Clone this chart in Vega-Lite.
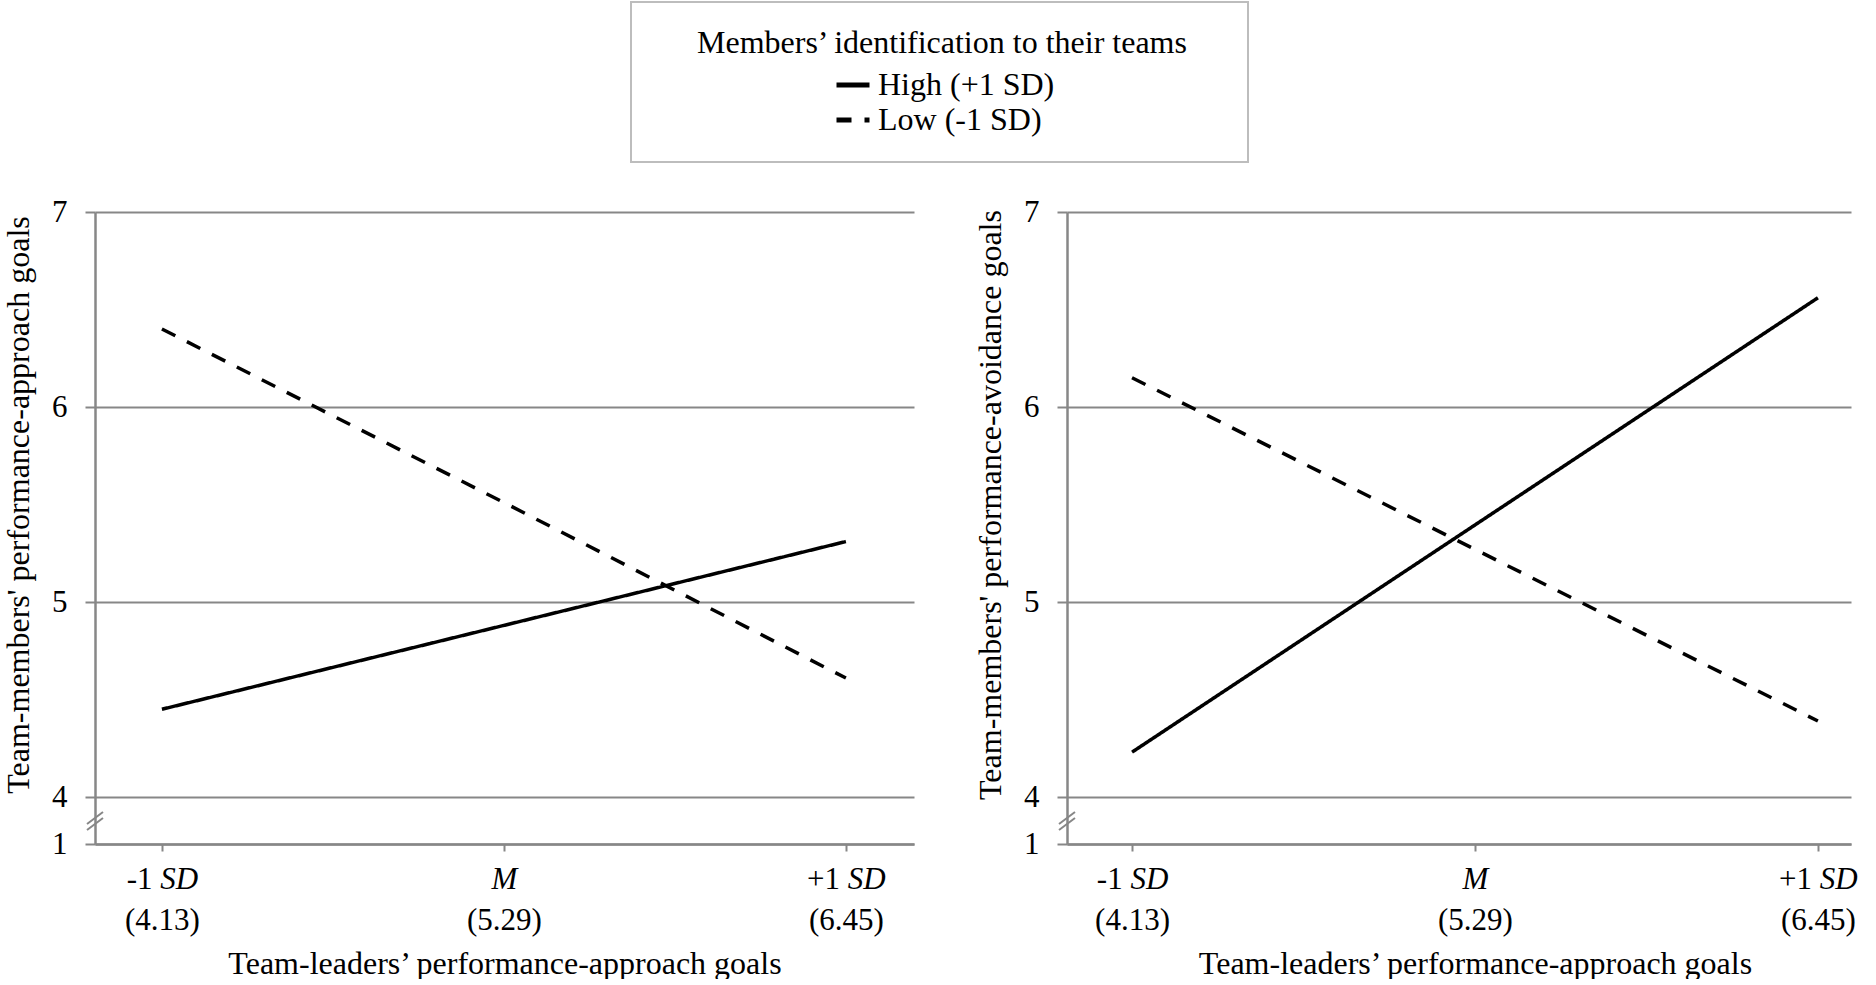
{
  "$schema": "https://vega.github.io/schema/vega-lite/v6.json",
  "padding": {"left": 2, "top": 1, "right": 0, "bottom": 0},
  "autosize": {"type": "pad"},
  "background": "white",
  "datasets": {
    "lines": [
      {"panel": "approach", "level": "High (+1 SD)", "leader": 4.13, "member": 4.45},
      {"panel": "approach", "level": "High (+1 SD)", "leader": 5.29, "member": 4.88},
      {"panel": "approach", "level": "High (+1 SD)", "leader": 6.45, "member": 5.31},
      {"panel": "approach", "level": "Low (-1 SD)", "leader": 4.13, "member": 6.40},
      {"panel": "approach", "level": "Low (-1 SD)", "leader": 5.29, "member": 5.51},
      {"panel": "approach", "level": "Low (-1 SD)", "leader": 6.45, "member": 4.61},
      {"panel": "avoidance", "level": "High (+1 SD)", "leader": 4.13, "member": 4.23},
      {"panel": "avoidance", "level": "High (+1 SD)", "leader": 5.29, "member": 5.395},
      {"panel": "avoidance", "level": "High (+1 SD)", "leader": 6.45, "member": 6.56},
      {"panel": "avoidance", "level": "Low (-1 SD)", "leader": 4.13, "member": 6.15},
      {"panel": "avoidance", "level": "Low (-1 SD)", "leader": 5.29, "member": 5.27},
      {"panel": "avoidance", "level": "Low (-1 SD)", "leader": 6.45, "member": 4.39}
    ],
    "marker": [{"kind": "axis break"}]
  },
  "config": {
    "view": {"stroke": null},
    "font": "Liberation Serif",
    "axis": {
      "labelFont": "Liberation Serif", "labelFontSize": 31, "labelColor": "black",
      "titleFont": "Liberation Serif", "titleFontSize": 32, "titleFontWeight": "normal", "titleColor": "black",
      "domainColor": "#878787", "domainWidth": 2.5,
      "tickColor": "#878787", "tickWidth": 2,
      "gridColor": "#878787", "gridWidth": 2,
      "labelFlush": false, "labelOverlap": false, "labelBound": false, "labelLimit": 1000, "titleLimit": 2000
    },
    "legend": {
      "orient": "none", "legendX": 536, "legendY": -210, "direction": "vertical",
      "padding": 26, "strokeColor": "#bdbdbd", "fillColor": "white",
      "titleFont": "Liberation Serif", "titleFontSize": 32, "titleFontWeight": "normal", "titleColor": "black",
      "titlePadding": 6, "titleLimit": 2000,
      "labelFont": "Liberation Serif", "labelFontSize": 32, "labelColor": "black", "labelLimit": 1000,
      "symbolType": "stroke", "symbolSize": 1089, "symbolStrokeWidth": 5, "symbolStrokeColor": "black",
      "rowPadding": 0, "symbolOffset": 177, "labelOffset": 6
    }
  },
  "spacing": 60,
  "hconcat": [
    {
      "width": 819, "height": 632,
      "layer": [
        {
          "data": {"name": "lines"},
          "transform": [{"filter": "datum.panel == 'approach'"}],
          "mark": {"type": "line", "color": "black", "strokeWidth": 3.5, "strokeCap": "butt"},
          "encoding": {
            "x": {"field": "leader", "type": "quantitative",
              "scale": {"domain": [3.903, 6.681], "nice": false, "zero": false},
              "axis": {"orient": "bottom", "values": [4.13, 5.29, 6.45],
                "labelExpr": "datum.value < 4.5 ? '-1' : datum.value < 6 ? 'M' : '+1'",
                "labelFontStyle": {"condition": {"test": "datum.value > 5 && datum.value < 6", "value": "italic"}, "value": "normal"},
                "labelOffset": {"condition": {"test": "datum.value > 5 && datum.value < 6", "value": 0}, "value": -22.8},
                "grid": false, "tickSize": 7, "labelPadding": 13.5, "title": null, "domain": true}},
            "y": {"field": "member", "type": "quantitative",
              "scale": {"domain": [3.759, 7], "nice": false, "zero": false},
              "axis": {"values": [3.759, 4, 5, 6, 7],
                "labelExpr": "datum.value < 3.9 ? '1' : format(datum.value, 'd')",
                "grid": true, "tickSize": 10, "labelPadding": 18,
                "title": "Team-members' performance-approach goals", "titlePadding": 16, "titleY": 292.5}},
            "strokeDash": {"field": "level", "type": "nominal",
              "scale": {"domain": ["High (+1 SD)", "Low (-1 SD)"], "range": [[1, 0], [15, 13]]},
              "legend": {"title": "\u200b\u00a0\u00a0\u00a0\u00a0\u00a0Members’ identification to their teams\u00a0\u00a0\u00a0\u00a0\u200b",
                "encode": {
                  "symbols": {"update": {"strokeDash": {"signal": "datum.label == 'Low (-1 SD)' ? [7, 6] : [1, 0]"}}},
                  "legend": {"update": {"strokeWidth": {"value": 2}}}
                }}}
          }
        },
        {
          "data": {"name": "marker"},
          "mark": {"type": "point", "shape": "M-0.8,0.9L0.8,-0.3M-0.8,0.3L0.8,-0.9", "size": 400,
            "color": "#878787", "strokeWidth": 2, "filled": false, "opacity": 1},
          "encoding": {
            "x": {"datum": 3.903, "type": "quantitative",
              "axis": {"orient": "bottom", "values": [4.13, 5.29, 6.45],
                "labelExpr": "datum.value < 4.5 ? '(4.13)' : datum.value < 6 ? '(5.29)' : '(6.45)'",
                "ticks": false, "domain": false, "grid": false, "labelPadding": 61.5,
                "title": "Team-leaders’ performance-approach goals", "titlePadding": 12.5}},
            "y": {"datum": 3.877, "type": "quantitative"}
          }
        },
        {
          "data": {"name": "marker"},
          "mark": {"type": "point", "size": 1, "opacity": 0},
          "encoding": {
            "x": {"datum": 3.903, "type": "quantitative",
              "axis": {"orient": "bottom", "values": [4.13, 6.45],
                "labelExpr": "'SD'", "labelFontStyle": "italic",
                "labelOffset": {"condition": {"test": "datum.value < 4.5", "value": 16.8}, "value": 20.3},
                "ticks": false, "domain": false, "grid": false, "labelPadding": 20.5, "title": null}},
            "y": {"datum": 3.877, "type": "quantitative"}
          }
        }
      ],
      "resolve": {"axis": {"x": "independent"}}
    },
    {
      "width": 784, "height": 632,
      "layer": [
        {
          "data": {"name": "lines"},
          "transform": [{"filter": "datum.panel == 'avoidance'"}],
          "mark": {"type": "line", "color": "black", "strokeWidth": 3.5, "strokeCap": "butt"},
          "encoding": {
            "x": {"field": "leader", "type": "quantitative",
              "scale": {"domain": [3.91, 6.562], "nice": false, "zero": false},
              "axis": {"orient": "bottom", "values": [4.13, 5.29, 6.45],
                "labelExpr": "datum.value < 4.5 ? '-1' : datum.value < 6 ? 'M' : '+1'",
                "labelFontStyle": {"condition": {"test": "datum.value > 5 && datum.value < 6", "value": "italic"}, "value": "normal"},
                "labelOffset": {"condition": {"test": "datum.value > 5 && datum.value < 6", "value": 0}, "value": -22.8},
                "grid": false, "tickSize": 7, "labelPadding": 13.5, "title": null, "domain": true}},
            "y": {"field": "member", "type": "quantitative",
              "scale": {"domain": [3.759, 7], "nice": false, "zero": false},
              "axis": {"values": [3.759, 4, 5, 6, 7],
                "labelExpr": "datum.value < 3.9 ? '1' : format(datum.value, 'd')",
                "grid": true, "tickSize": 10, "labelPadding": 18,
                "title": "Team-members' performance-avoidance goals", "titlePadding": 16, "titleY": 292.5}},
            "strokeDash": {"field": "level", "type": "nominal",
              "scale": {"domain": ["High (+1 SD)", "Low (-1 SD)"], "range": [[1, 0], [15, 13]]},
              "legend": {"title": "\u200b\u00a0\u00a0\u00a0\u00a0\u00a0Members’ identification to their teams\u00a0\u00a0\u00a0\u00a0\u200b",
                "encode": {
                  "symbols": {"update": {"strokeDash": {"signal": "datum.label == 'Low (-1 SD)' ? [7, 6] : [1, 0]"}}},
                  "legend": {"update": {"strokeWidth": {"value": 2}}}
                }}}
          }
        },
        {
          "data": {"name": "marker"},
          "mark": {"type": "point", "shape": "M-0.8,0.9L0.8,-0.3M-0.8,0.3L0.8,-0.9", "size": 400,
            "color": "#878787", "strokeWidth": 2, "filled": false, "opacity": 1},
          "encoding": {
            "x": {"datum": 3.91, "type": "quantitative",
              "axis": {"orient": "bottom", "values": [4.13, 5.29, 6.45],
                "labelExpr": "datum.value < 4.5 ? '(4.13)' : datum.value < 6 ? '(5.29)' : '(6.45)'",
                "ticks": false, "domain": false, "grid": false, "labelPadding": 61.5,
                "title": "Team-leaders’ performance-approach goals", "titlePadding": 12.5, "titleX": 408}},
            "y": {"datum": 3.877, "type": "quantitative"}
          }
        },
        {
          "data": {"name": "marker"},
          "mark": {"type": "point", "size": 1, "opacity": 0},
          "encoding": {
            "x": {"datum": 3.91, "type": "quantitative",
              "axis": {"orient": "bottom", "values": [4.13, 6.45],
                "labelExpr": "'SD'", "labelFontStyle": "italic",
                "labelOffset": {"condition": {"test": "datum.value < 4.5", "value": 16.8}, "value": 20.3},
                "ticks": false, "domain": false, "grid": false, "labelPadding": 20.5, "title": null}},
            "y": {"datum": 3.877, "type": "quantitative"}
          }
        }
      ],
      "resolve": {"axis": {"x": "independent"}}
    }
  ],
  "resolve": {"scale": {"x": "independent", "y": "independent", "strokeDash": "shared"}, "legend": {"strokeDash": "shared"}}
}
